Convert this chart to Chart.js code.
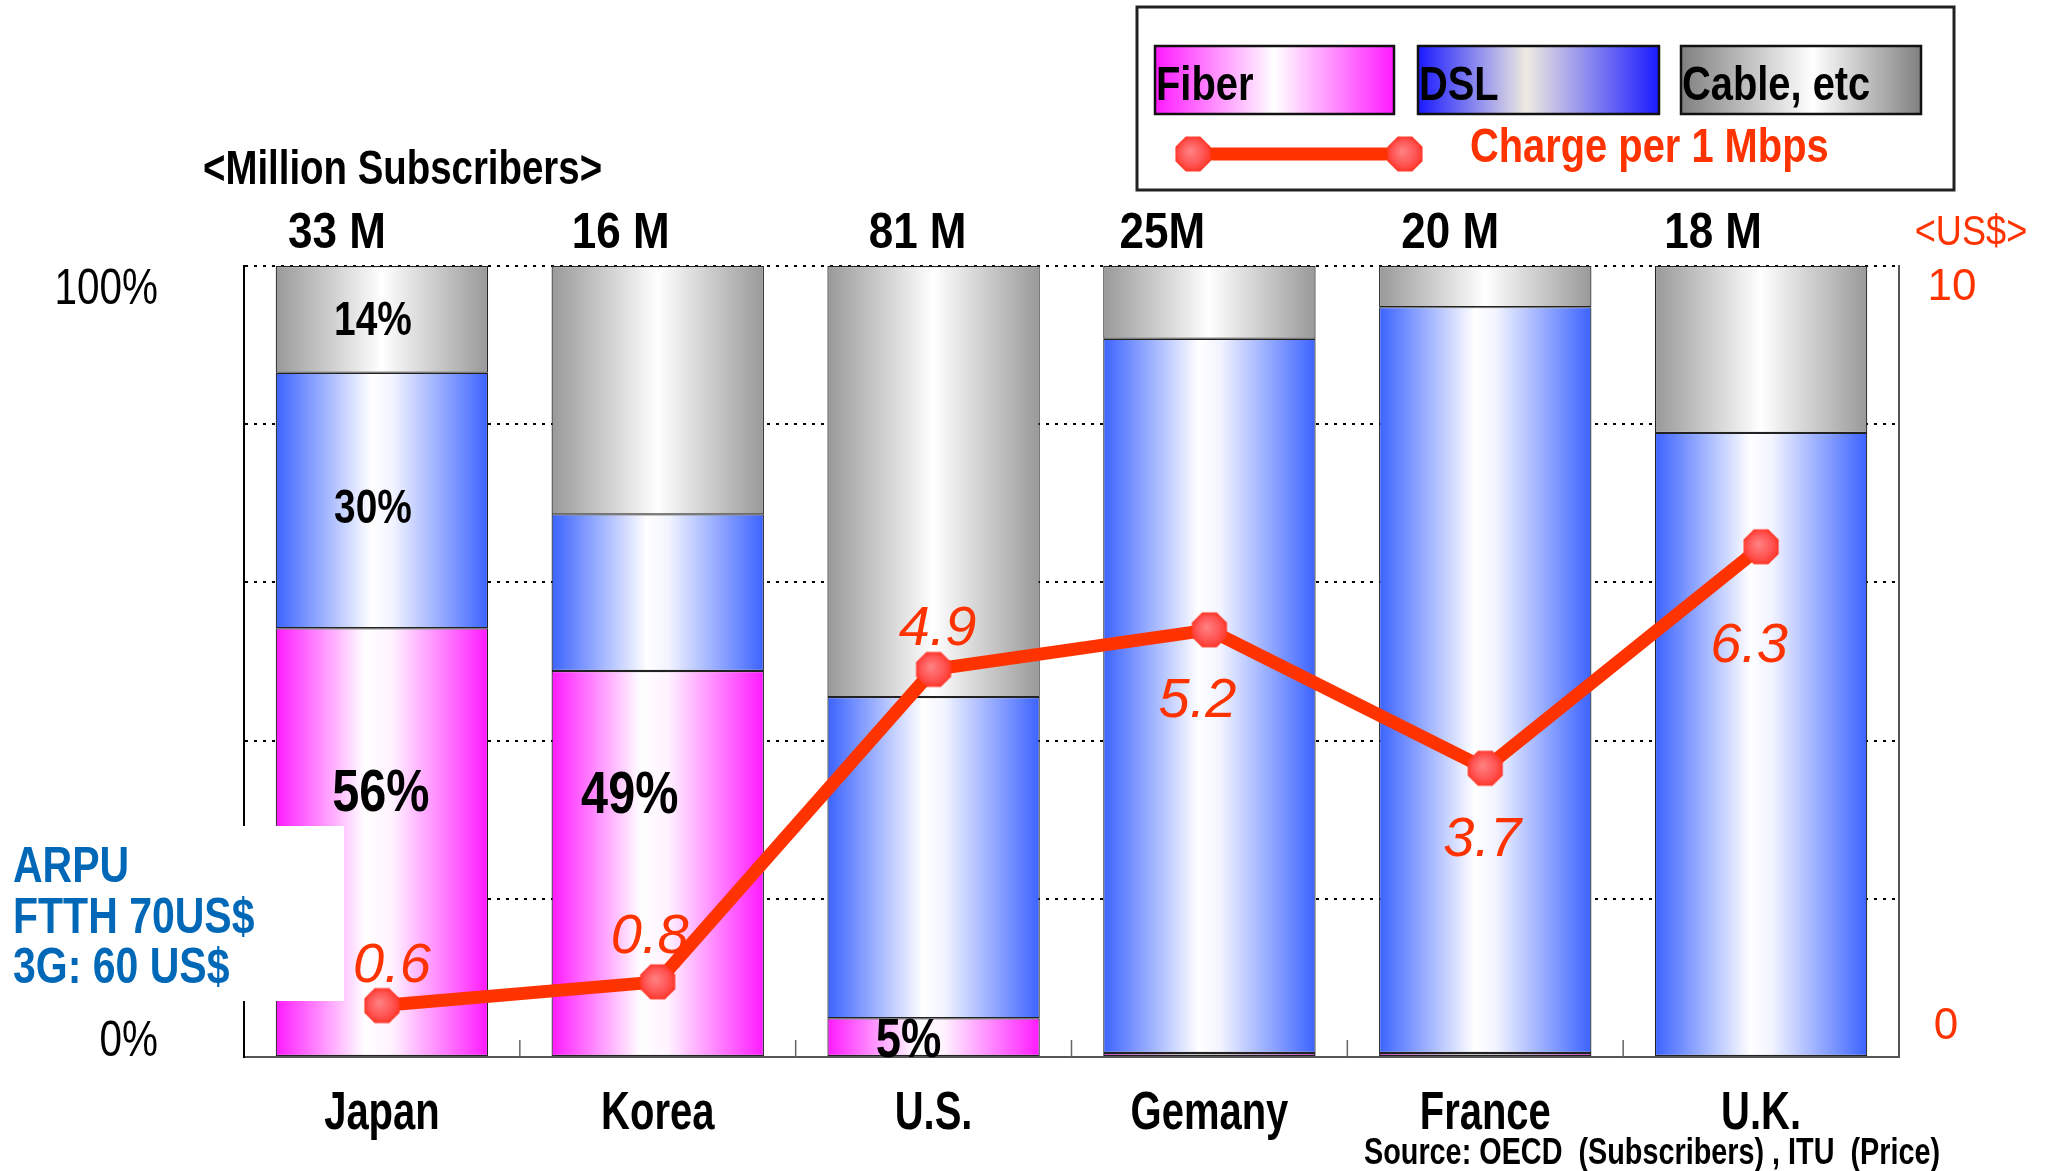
<!DOCTYPE html>
<html>
<head>
<meta charset="utf-8">
<script src="https://cdn.jsdelivr.net/npm/chart.js@4.4.1/dist/chart.umd.min.js"></script>
<style>
  html, body { margin: 0; padding: 0; background: #fff; }
  #wrap { width: 2051px; height: 1171px; position: relative; }
</style>
</head>
<body>
<div id="wrap"><canvas id="grafico"></canvas></div>
<script>
// Datos
const categorias = ['Japan', 'Korea', 'U.S.', 'Gemany', 'France', 'U.K.'];
const suscriptores = ['33 M', '16 M', '81 M', '25M', '20 M', '18 M'];
const fiber = [54.2, 48.8, 4.9, 0.5, 0.5, 0];
const dsl = [32.3, 19.8, 40.6, 90.3, 94.3, 78.9];
const cable = [13.5, 31.4, 54.5, 9.2, 5.2, 21.1];
const cargo = [0.65, 0.95, 4.9, 5.4, 3.65, 6.45];
const cargoTextos = ['0.6', '0.8', '4.9', '5.2', '3.7', '6.3'];
const fiberTextos = ['56%', '49%', '5%', '', '', ''];
const dslTextos = ['30%', '', '', '', '', ''];
const cableTextos = ['14%', '', '', '', '', ''];
const ticksIzq = [100, 0];
const ticksIzqTextos = ['100%', '0%'];
const ticksDer = [10, 0];
const ticksDerTextos = ['10', '0'];

const SANS = '"Liberation Sans", Arial, sans-serif';
const ROJO = '#FF3300';
const AZUL = '#0068B7';

const stopsFiber = [[0, '#FF1AFF'], [0.42, '#FFFFFF'], [0.55, '#FFF2FF'], [1, '#FF1AFF']];
const stopsDsl = [[0, '#3B63FF'], [0.45, '#FFFFFF'], [0.55, '#F2F4FF'], [1, '#3B63FF']];
const stopsCable = [[0, '#999999'], [0.5, '#FFFFFF'], [1, '#999999']];
const leyFiber = [[0, '#FF1AFF'], [0.5, '#FFFFFF'], [1, '#FF1AFF']];
const leyDsl = [[0, '#1A1AFF'], [0.45, '#EEEAE0'], [1, '#1A1AFF']];
const leyCable = [[0, '#808080'], [0.55, '#FFFFFF'], [1, '#808080']];

function gradiente(ctx, x0, x1, stops) {
    const g = ctx.createLinearGradient(x0, 0, x1, 0);
    stops.forEach(([p, c]) => g.addColorStop(p, c));
    return g;
}

function rellenoBarra(stops) {
    return (c) => {
        const chart = c.chart;
        const xs = chart.scales.x;
        if (!xs || !chart.chartArea) return stops[0][1];
        const cx = xs.getPixelForValue(c.dataIndex);
        const half = xs.width / categorias.length * 0.77 / 2;
        return gradiente(chart.ctx, cx - half, cx + half, stops);
    };
}

function crearMarcador(r) {
    const cv = document.createElement('canvas');
    cv.width = cv.height = r * 2 + 2;
    const g = cv.getContext('2d');
    const c = r + 1;
    g.beginPath();
    for (let k = 0; k < 8; k++) {
        const a = Math.PI / 8 + k * Math.PI / 4;
        g.lineTo(c + r * Math.cos(a), c + r * Math.sin(a));
    }
    g.closePath();
    const rg = g.createRadialGradient(c - r * 0.15, c - r * 0.15, 1, c, c, r);
    rg.addColorStop(0, '#FF8080');
    rg.addColorStop(0.6, '#FF5555');
    rg.addColorStop(1, '#FF3322');
    g.fillStyle = rg;
    g.fill();
    return cv;
}
const marcador = crearMarcador(19);

// texto con compresion horizontal (la fuente original es estrecha)
function texto(ctx, t, x, y, font, color, align, sx, base) {
    ctx.save();
    ctx.translate(x, y);
    ctx.scale(sx || 1, 1);
    ctx.font = font;
    ctx.fillStyle = color;
    ctx.textAlign = align || 'center';
    ctx.textBaseline = base || 'middle';
    ctx.fillText(t, 0, 0);
    ctx.restore();
}

const decorado = {
    id: 'decorado',
    afterDraw(chart) {
        const ctx = chart.ctx;
        const xs = chart.scales.x, ys = chart.scales.y, y2 = chart.scales.y2;
        const area = chart.chartArea;
        ctx.save();

        // marcas cortas entre categorias
        ctx.strokeStyle = '#666';
        ctx.lineWidth = 1.5;
        for (let i = 0; i < categorias.length - 1; i++) {
            const xm = (xs.getPixelForValue(i) + xs.getPixelForValue(i + 1)) / 2;
            ctx.beginPath();
            ctx.moveTo(xm, area.bottom);
            ctx.lineTo(xm, area.bottom - 17);
            ctx.stroke();
        }

        // categorias
        categorias.forEach((t, i) => {
            texto(ctx, t, xs.getPixelForValue(i), 1114, 'bold 54px ' + SANS, '#000', 'center', 0.74);
        });

        // cuadro ARPU
        ctx.fillStyle = '#fff';
        ctx.fillRect(0, 826, 344, 175);
        ['ARPU', 'FTTH 70US$', '3G: 60 US$'].forEach((t, i) => {
            texto(ctx, t, 13, 882 + i * 50.5, 'bold 50px ' + SANS, AZUL, 'left', 0.82, 'alphabetic');
        });

        // porcentajes dentro de las barras
        const ajustes = {
            '0-0': [-1, -48], '0-1': [-28, -67], '0-2': [-25, 4],
            '1-0': [-9, 9], '2-0': [-9, 2]
        };
        const tamanos = { '0-0': 60, '0-1': 60, '0-2': 56, '1-0': 48, '2-0': 48 };
        [fiberTextos, dslTextos, cableTextos].forEach((arr, d) => {
            const meta = chart.getDatasetMeta(d);
            arr.forEach((t, i) => {
                if (!t) return;
                const el = meta.data[i];
                const k = d + '-' + i;
                const [dx, dy] = ajustes[k] || [0, 0];
                texto(ctx, t, el.x + dx, (el.y + el.base) / 2 + dy,
                    'bold ' + (tamanos[k] || 48) + 'px ' + SANS, '#000', 'center', 0.81);
            });
        });

        // valores de la linea
        const posCargo = [[10, -39], [-8, -44], [4, -40], [-12, 72], [-3, 72], [-12, 100]];
        const metaL = chart.getDatasetMeta(3);
        cargoTextos.forEach((t, i) => {
            const p = metaL.data[i];
            texto(ctx, t, p.x + posCargo[i][0], p.y + posCargo[i][1], 'italic 56px ' + SANS, ROJO);
        });

        // suscriptores
        const offSus = [-45, -37, -16, -47, -35, -48];
        suscriptores.forEach((t, i) => {
            texto(ctx, t, xs.getPixelForValue(i) + offSus[i], 234, 'bold 50px ' + SANS, '#000', 'center', 0.88);
        });
        texto(ctx, '<Million Subscribers>', 203, 171, 'bold 48px ' + SANS, '#000', 'left', 0.8);

        // ejes
        const offIzq = [24, -15];
        ticksIzq.forEach((v, i) => {
            texto(ctx, ticksIzqTextos[i], 158, ys.getPixelForValue(v) + offIzq[i], '50px ' + SANS, '#000', 'right', 0.81);
        });
        const offDer = [[1952, 22], [1946, -30]];
        ticksDer.forEach((v, i) => {
            texto(ctx, ticksDerTextos[i], offDer[i][0], y2.getPixelForValue(v) + offDer[i][1], '44px ' + SANS, ROJO);
        });
        texto(ctx, '<US$>', 1971, 233, '42px ' + SANS, ROJO, 'center', 0.86);

        // fuente
        texto(ctx, 'Source: OECD  (Subscribers) , ITU  (Price)', 1364, 1154, 'bold 36px ' + SANS, '#000', 'left', 0.8);

        // leyenda
        ctx.strokeStyle = '#222';
        ctx.lineWidth = 3;
        ctx.strokeRect(1137, 7, 817, 183);
        const cajas = [[1155, 239, leyFiber, 0], [1418, 241, leyDsl, 1], [1681, 240, leyCable, 2]];
        cajas.forEach(([x, w, st, d]) => {
            ctx.fillStyle = gradiente(ctx, x, x + w, st);
            ctx.fillRect(x, 46, w, 68);
            ctx.lineWidth = 2.5;
            ctx.strokeStyle = '#111';
            ctx.strokeRect(x, 46, w, 68);
            texto(ctx, chart.data.datasets[d].label, x + 1, 87, 'bold 48px ' + SANS, '#000', 'left', 0.83);
        });
        ctx.strokeStyle = ROJO;
        ctx.lineWidth = 13;
        ctx.beginPath();
        ctx.moveTo(1193, 154);
        ctx.lineTo(1405, 154);
        ctx.stroke();
        ctx.drawImage(marcador, 1193 - marcador.width / 2, 154 - marcador.height / 2);
        ctx.drawImage(marcador, 1405 - marcador.width / 2, 154 - marcador.height / 2);
        texto(ctx, chart.data.datasets[3].label, 1470, 149, 'bold 48px ' + SANS, ROJO, 'left', 0.83);

        ctx.restore();
    }
};

const ctx = document.getElementById('grafico').getContext('2d');

const barraComun = {
    type: 'bar',
    yAxisID: 'y',
    borderColor: '#222',
    borderWidth: 1.2,
    borderSkipped: false,
    barPercentage: 0.77,
    categoryPercentage: 1,
    order: 1
};

new Chart(ctx, {
    data: {
        labels: categorias,
        datasets: [
            Object.assign({ label: 'Fiber', data: fiber, backgroundColor: rellenoBarra(stopsFiber) }, barraComun),
            Object.assign({ label: 'DSL', data: dsl, backgroundColor: rellenoBarra(stopsDsl) }, barraComun),
            Object.assign({ label: 'Cable, etc', data: cable, backgroundColor: rellenoBarra(stopsCable) }, barraComun),
            {
                type: 'line',
                label: 'Charge per 1 Mbps',
                data: cargo,
                yAxisID: 'y2',
                borderColor: ROJO,
                borderWidth: 13,
                pointStyle: marcador,
                pointRadius: 19,
                tension: 0,
                order: 0
            }
        ]
    },
    options: {
        responsive: true,
        maintainAspectRatio: false,
        animation: false,
        layout: { padding: { left: 244, right: 152, top: 266, bottom: 114 } },
        plugins: {
            legend: { display: false },
            tooltip: { enabled: false }
        },
        scales: {
            x: {
                stacked: true,
                grid: { display: false, drawTicks: false },
                border: { color: '#555', width: 2 },
                ticks: { display: false }
            },
            y: {
                stacked: true,
                min: 0,
                max: 100,
                ticks: { stepSize: 20, display: false },
                grid: {
                    drawTicks: false,
                    color: (c) => c.tick && c.tick.value === 0 ? 'rgba(0,0,0,0)' : '#000',
                    lineWidth: 2
                },
                border: { color: '#000', width: 2, dash: [3, 6] }
            },
            y2: {
                position: 'right',
                min: 0,
                max: 10,
                ticks: { display: false },
                grid: { drawOnChartArea: false, drawTicks: false },
                border: { color: '#555', width: 2 }
            }
        }
    },
    plugins: [decorado]
});
</script>
</body>
</html>
